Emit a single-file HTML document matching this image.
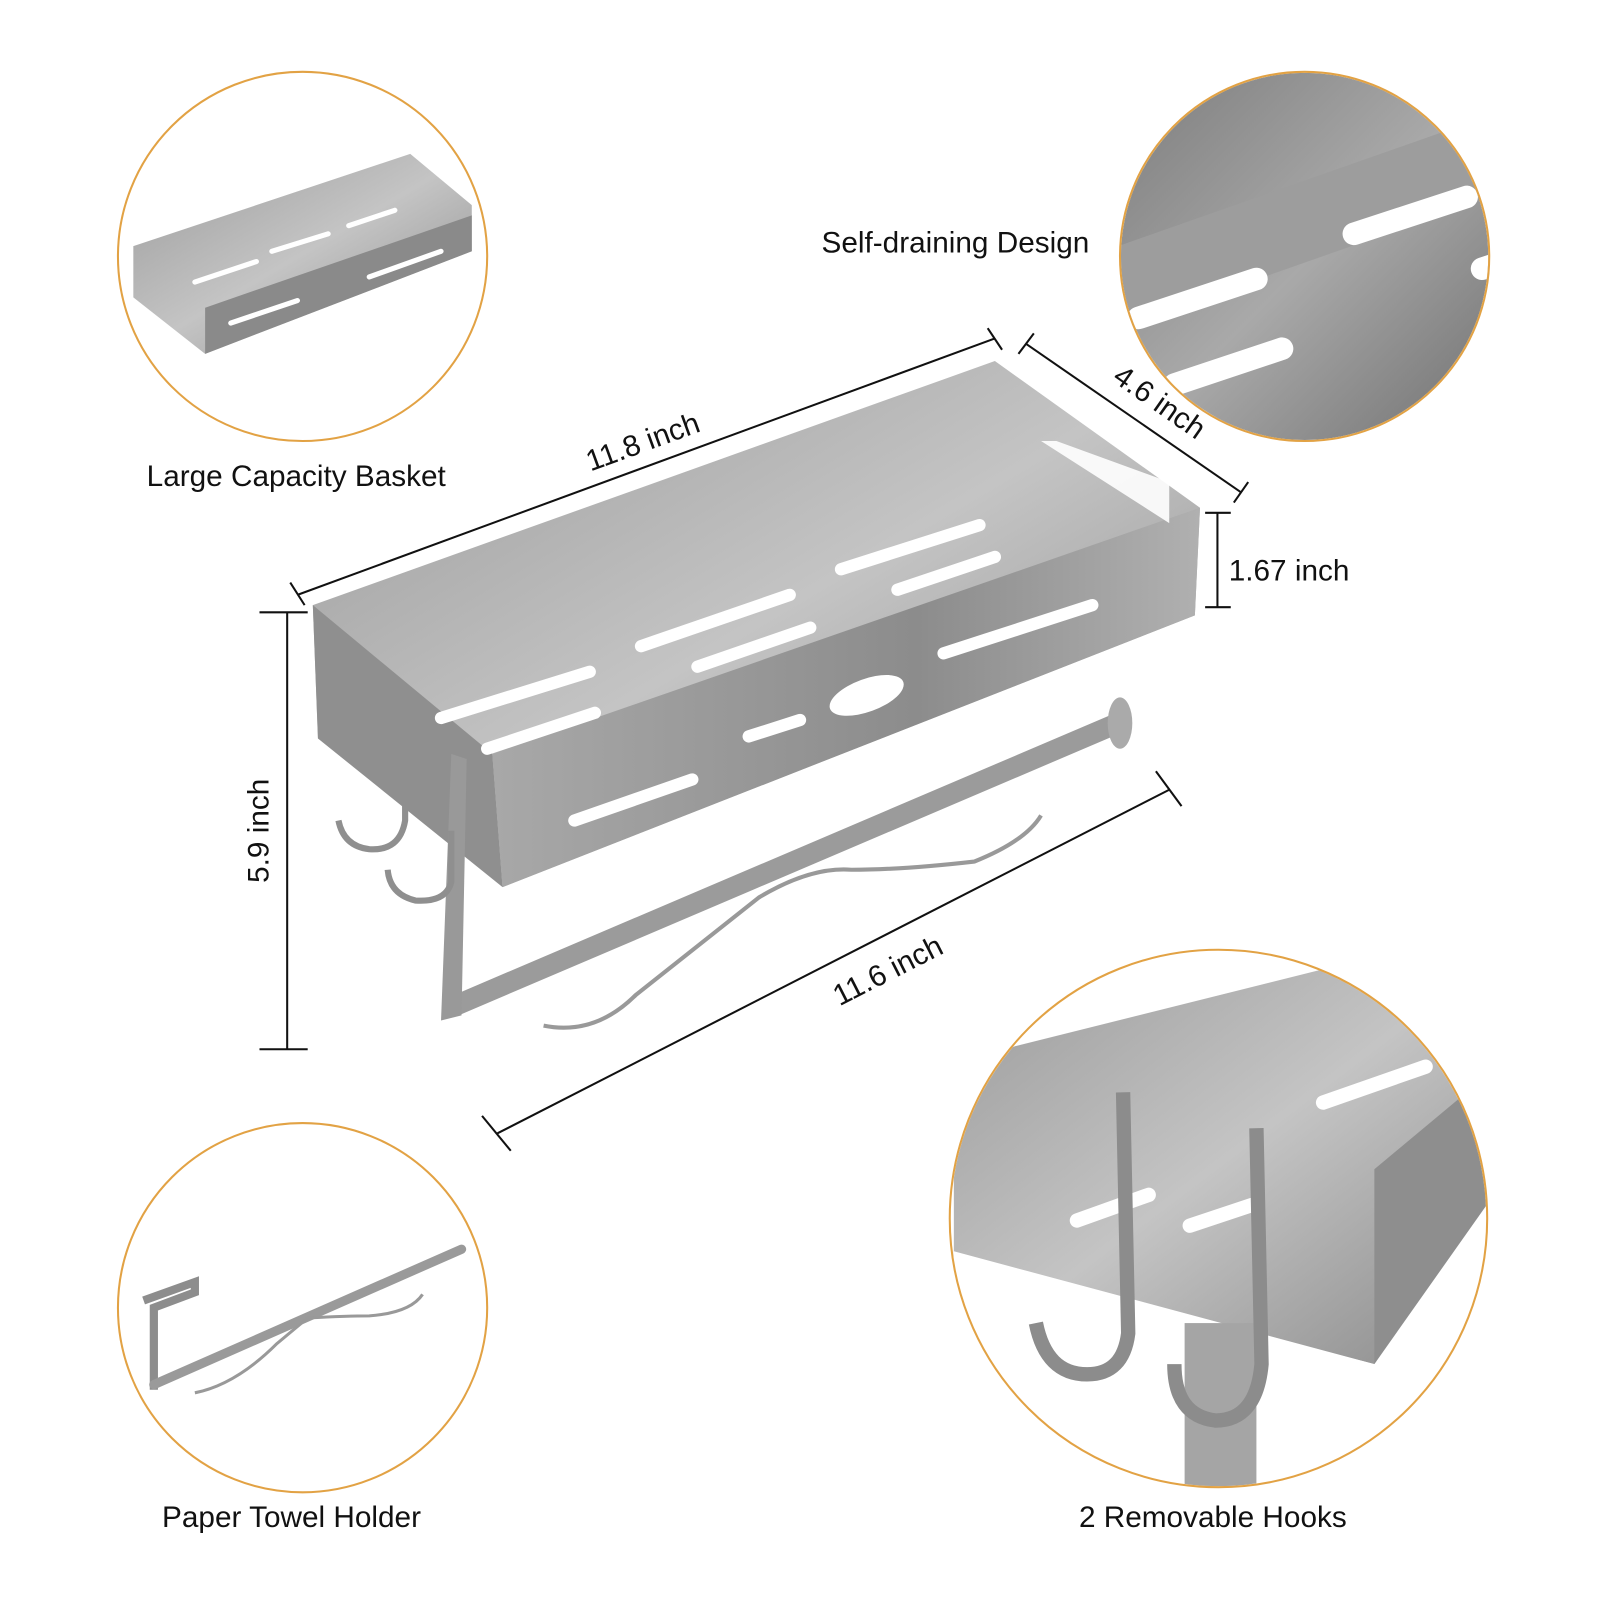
<!DOCTYPE html>
<html><head><style>html,body{margin:0;padding:0;background:#fff}svg{display:block}text{font-family:"Liberation Sans",sans-serif;fill:#111}</style></head>
<body>
<svg width="1600" height="1600" viewBox="0 0 1560 1560" xmlns="http://www.w3.org/2000/svg">
<defs>
<linearGradient id="g1" x1="0" y1="0" x2="1" y2="1"><stop offset="0" stop-color="#9a9a9a"/><stop offset=".5" stop-color="#c4c4c4"/><stop offset="1" stop-color="#8a8a8a"/></linearGradient>
<linearGradient id="g2" x1="0" y1="0" x2="1" y2="0"><stop offset="0" stop-color="#a8a8a8"/><stop offset=".6" stop-color="#8c8c8c"/><stop offset="1" stop-color="#b0b0b0"/></linearGradient>
<linearGradient id="g3" x1="0" y1="0" x2="1" y2="1"><stop offset="0" stop-color="#7d7d7d"/><stop offset=".5" stop-color="#a9a9a9"/><stop offset="1" stop-color="#6f6f6f"/></linearGradient>
<clipPath id="c2"><circle cx="1272" cy="250" r="179"/></clipPath>
<clipPath id="c4"><circle cx="1188" cy="1188" r="261"/></clipPath>
</defs>
<!-- circles -->
<circle cx="295" cy="250" r="180" fill="#fff" stroke="#e2a244" stroke-width="2"/>
<g clip-path="url(#c2)"><rect x="1090" y="70" width="370" height="370" fill="url(#g3)"/>
<polygon points="1090,240 1460,110 1460,190 1090,320" fill="#9d9d9d"/>
<g stroke="#fff" stroke-width="22" stroke-linecap="round"><line x1="1110" y1="310" x2="1225" y2="272"/><line x1="1320" y1="228" x2="1430" y2="192"/><line x1="1145" y1="375" x2="1250" y2="340"/><line x1="1445" y1="262" x2="1470" y2="254"/></g></g>
<circle cx="1272" cy="250" r="180" fill="none" stroke="#e2a244" stroke-width="2"/>
<circle cx="295" cy="1275" r="180" fill="#fff" stroke="#e2a244" stroke-width="2"/>
<g clip-path="url(#c4)"><rect x="920" y="920" width="540" height="540" fill="#fff"/>
<polygon points="990,1020 1350,930 1460,930 1460,1150 1340,1330 930,1225 930,1040" fill="url(#g1)"/>
<polygon points="930,1220 1340,1330 1460,1160 1460,1460 930,1460" fill="#fff"/>
<polygon points="1340,1140 1460,1040 1460,1160 1340,1330" fill="#8e8e8e"/>
<g stroke="#fff" stroke-width="14" stroke-linecap="round"><line x1="1290" y1="1075" x2="1390" y2="1040"/><line x1="1050" y1="1190" x2="1120" y2="1165"/><line x1="1160" y1="1195" x2="1220" y2="1175"/></g>
<rect x="1155" y="1290" width="70" height="170" fill="#a5a5a5"/>
<path d="M1095 1065 L1100 1300 Q1095 1340 1060 1340 Q1020 1340 1010 1290" fill="none" stroke="#8c8c8c" stroke-width="14"/>
<path d="M1225 1100 L1230 1330 Q1225 1385 1185 1385 Q1145 1380 1145 1330" fill="none" stroke="#8c8c8c" stroke-width="14"/></g>
<circle cx="1188" cy="1188" r="262" fill="none" stroke="#e2a244" stroke-width="2"/>
<!-- small basket -->
<polygon points="130,240 400,150 460,200 460,245 200,345 130,290" fill="url(#g1)"/>
<polygon points="200,300 460,210 460,245 200,345" fill="#8a8a8a"/>
<g stroke="#fff" stroke-width="5" stroke-linecap="round"><line x1="190" y1="275" x2="250" y2="255"/><line x1="265" y1="245" x2="320" y2="228"/><line x1="340" y1="220" x2="385" y2="205"/><line x1="225" y1="315" x2="290" y2="293"/><line x1="360" y1="270" x2="430" y2="245"/></g>
<!-- small towel holder -->
<polyline points="140,1268 190,1250 190,1260 150,1275 150,1355" fill="none" stroke="#8d8d8d" stroke-width="8"/>
<line x1="150" y1="1350" x2="450" y2="1218" stroke="#9a9a9a" stroke-width="9" stroke-linecap="round"/>
<path d="M190 1358 Q230 1350 270 1310 L300 1285 Q340 1283 360 1283 Q400 1280 412 1262" fill="none" stroke="#999" stroke-width="3"/>
<!-- main basket -->
<polygon points="305,590 970,352 1170,495 1165,600 490,865 480,735 310,720" fill="url(#g1)"/>
<polygon points="480,735 1170,495 1165,600 490,865" fill="url(#g2)"/>
<polygon points="305,590 480,735 490,865 310,720" fill="#8f8f8f"/>
<g stroke="#fff" stroke-width="12" stroke-linecap="round"><line x1="430" y1="700" x2="575" y2="655"/><line x1="625" y1="630" x2="770" y2="580"/><line x1="820" y1="555" x2="955" y2="512"/><line x1="475" y1="730" x2="580" y2="695"/><line x1="680" y1="650" x2="790" y2="612"/><line x1="875" y1="575" x2="970" y2="543"/><line x1="560" y1="800" x2="675" y2="760"/><line x1="730" y1="718" x2="780" y2="702"/><line x1="920" y1="637" x2="1065" y2="590"/></g>
<ellipse cx="845" cy="678" rx="38" ry="16" fill="#fff" transform="rotate(-20 845 678)"/>
<path d="M1015 430 L1140 510 L1140 470 L1030 430Z" fill="#fff" opacity=".9"/>
<!-- towel bar and hooks -->
<line x1="445" y1="980" x2="1090" y2="705" stroke="#9b9b9b" stroke-width="20" stroke-linecap="round"/>
<ellipse cx="1092" cy="705" rx="12" ry="25" fill="#aaa"/>
<polyline points="440,735 430,995 450,990 455,740" fill="#999"/>
<path d="M530 1000 Q580 1010 620 970 L740 875 Q790 845 830 848 Q880 848 950 840 Q1000 820 1015 795" fill="none" stroke="#999" stroke-width="4"/>
<path d="M395 690 L395 800 Q390 830 360 828 Q335 825 330 800" fill="none" stroke="#8f8f8f" stroke-width="6"/>
<path d="M440 810 L440 860 Q435 880 405 878 Q380 872 378 848" fill="none" stroke="#8f8f8f" stroke-width="6"/>
<!-- dimension lines -->
<g stroke="#111" stroke-width="2" fill="none">
<line x1="290" y1="580" x2="970" y2="330"/><line x1="283" y1="568" x2="297" y2="590"/><line x1="963" y1="320" x2="977" y2="341"/>
<line x1="1000" y1="335" x2="1210" y2="480"/><line x1="993" y1="345" x2="1008" y2="325"/><line x1="1203" y1="490" x2="1217" y2="470"/>
<line x1="1187" y1="500" x2="1187" y2="592"/><line x1="1175" y1="500" x2="1200" y2="500"/><line x1="1175" y1="592" x2="1200" y2="592"/>
<line x1="280" y1="597" x2="280" y2="1023"/><line x1="253" y1="597" x2="300" y2="597"/><line x1="253" y1="1023" x2="300" y2="1023"/>
<line x1="485" y1="1105" x2="1140" y2="770"/><line x1="470" y1="1088" x2="498" y2="1122"/><line x1="1127" y1="752" x2="1152" y2="786"/>
</g>
<g font-size="29">
<text x="630" y="440" transform="rotate(-20 630 440)" text-anchor="middle">11.8 inch</text>
<text x="1125" y="400" transform="rotate(35 1125 400)" text-anchor="middle">4.6 inch</text>
<text x="1198" y="566">1.67 inch</text>
<text x="262" y="810" transform="rotate(-90 262 810)" text-anchor="middle">5.9 inch</text>
<text x="870" y="955" transform="rotate(-27 870 955)" text-anchor="middle">11.6 inch</text>
<text x="143" y="474">Large Capacity Basket</text>
<text x="801" y="246">Self-draining Design</text>
<text x="158" y="1489">Paper Towel Holder</text>
<text x="1052" y="1489">2 Removable Hooks</text>
</g>
</svg>
</body></html>
